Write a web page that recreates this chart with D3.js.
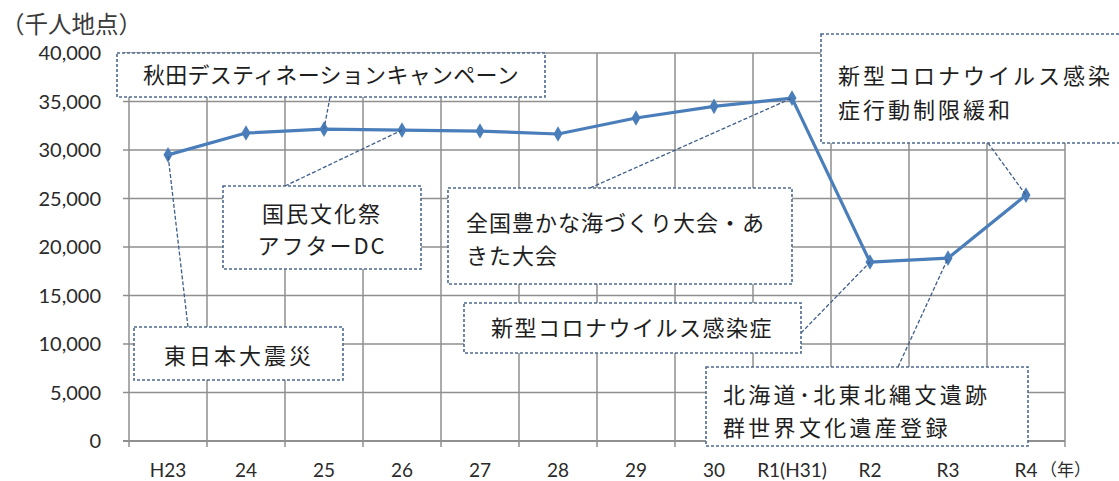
<!DOCTYPE html>
<html>
<head>
<meta charset="utf-8">
<script src="https://cdn.jsdelivr.net/npm/d3@7"></script>
<style>
  body { margin: 0; background: #fff; }
  text { font-family: "Noto Sans CJK JP", "Noto Sans", sans-serif; }
  .num { font-family: Lato, "Noto Sans", sans-serif; }
</style>
</head>
<body>
<div id="chart"></div>
<script>
// data
const categories = ["H23", "24", "25", "26", "27", "28", "29", "30", "R1(H31)", "R2", "R3", "R4"]
const visitors = [29500, 31750, 32150, 32050, 31950, 31650, 33300, 34500, 35350, 18450, 18850, 25350]
const yTicks = [0, 5000, 10000, 15000, 20000, 25000, 30000, 35000, 40000]

const noteLines = [
    ["東日本大震災"],
    ["秋田デスティネーションキャンペーン"],
    ["国民文化祭", "アフターDC"],
    ["全国豊かな海づくり大会・あ", "きた大会"],
    ["新型コロナウイルス感染症"],
    ["北海道･北東北縄文遺跡", "群世界文化遺産登録"],
    ["新型コロナウイルス感染", "症行動制限緩和"]
]
const noteTarget = [0, 2, 3, 8, 9, 10, 11]

// layout for the callout boxes
const noteBoxes = [
    {x: 134, y: 327, w: 209, h: 53, align: "middle", tx: 239, ty: [364], ls: 3, lx: 188, ly: 327},
    {x: 117, y: 53, w: 428, h: 44, align: "middle", tx: 331, ty: [83], ls: 0.3, lx: 330, ly: 97},
    {x: 223, y: 186, w: 198, h: 83, align: "middle", tx: 322, ty: [222, 254], ls: 2, lx: 285, ly: 186},
    {x: 448, y: 188, w: 344, h: 96, align: "start", tx: 466, ty: [231, 264], ls: 1, lx: 590, ly: 188},
    {x: 464, y: 303, w: 337, h: 50, align: "middle", tx: 632, ty: [336], ls: 1.5, lx: 801, ly: 333},
    {x: 706, y: 367, w: 322, h: 79, align: "start", tx: 723, ty: [403, 436], ls: 3.3, lx: 898, ly: 367},
    {x: 821, y: 34, w: 310, h: 109, align: "start", tx: 838, ty: [84, 118], ls: 3, lx: 988, ly: 143}
]

const width = 1119, height = 481
const plot = {left: 129, right: 1065, top: 53, bottom: 441}

const svg = d3.select("#chart").append("svg")
    .attr("width", width)
    .attr("height", height)

const x = d3.scaleBand()
    .domain(categories)
    .range([plot.left, plot.right])
    .padding(0)

const y = d3.scaleLinear()
    .domain([0, 40000])
    .range([plot.bottom, plot.top])

const gridColor = "#8f8f8f"

// horizontal grid + y ticks
svg.append("g").selectAll("line")
    .data(yTicks)
    .enter().append("line")
    .attr("x1", plot.left - 6)
    .attr("x2", plot.right)
    .attr("y1", d => y(d))
    .attr("y2", d => y(d))
    .attr("stroke", gridColor)
    .attr("stroke-width", d => d === 0 ? 2 : 1.5)

// vertical grid at category boundaries
let bounds = categories.map(c => x(c)).concat([plot.right])
svg.append("g").selectAll("line")
    .data(bounds)
    .enter().append("line")
    .attr("x1", d => d)
    .attr("x2", d => d)
    .attr("y1", plot.top)
    .attr("y2", plot.bottom + 6)
    .attr("stroke", gridColor)
    .attr("stroke-width", 1.5)

// y labels
svg.append("g").selectAll("text")
    .data(yTicks)
    .enter().append("text")
    .attr("class", "num")
    .attr("x", 101)
    .attr("y", d => y(d) + 7)
    .attr("text-anchor", "end")
    .style("font-size", "20px")
    .style("fill", "#2a2a2a")
    .text(d => d3.format(",")(d))

// x labels
svg.append("g").selectAll("text")
    .data(categories)
    .enter().append("text")
    .attr("class", "num")
    .attr("x", d => x(d) + x.bandwidth() / 2)
    .attr("y", 477)
    .attr("text-anchor", "middle")
    .style("font-size", "19px")
    .style("fill", "#2a2a2a")
    .text(d => d)

svg.append("text")
    .attr("x", 1040)
    .attr("y", 476)
    .style("font-size", "17px")
    .style("fill", "#2a2a2a")
    .text("（年）")

svg.append("text")
    .attr("x", 1)
    .attr("y", 33)
    .style("font-size", "23.5px")
    .style("fill", "#3a3a3a")
    .text("（千人地点）")

// series line
const cx = i => x(categories[i]) + x.bandwidth() / 2

let line = d3.line()
    .x((d, i) => cx(i))
    .y(d => y(d))

svg.append("path")
    .datum(visitors)
    .attr("d", line)
    .attr("fill", "none")
    .attr("stroke", "#4a7ebb")
    .attr("stroke-width", 3.2)
    .attr("stroke-linejoin", "round")

svg.append("g").selectAll("path")
    .data(visitors)
    .enter().append("path")
    .attr("transform", (d, i) => "translate(" + cx(i) + "," + y(d) + ")")
    .attr("d", d3.symbol().type(d3.symbolDiamond).size(70))
    .attr("fill", "#4a7ebb")

// callouts
let notes = svg.append("g").selectAll("g")
    .data(noteLines)
    .enter().append("g")

notes.append("line")
    .attr("x1", (d, i) => noteBoxes[i].lx)
    .attr("y1", (d, i) => noteBoxes[i].ly)
    .attr("x2", (d, i) => cx(noteTarget[i]))
    .attr("y2", (d, i) => y(visitors[noteTarget[i]]))
    .attr("stroke", "#3f5f8a")
    .attr("stroke-width", 1.3)
    .attr("stroke-dasharray", "4,2")

notes.append("rect")
    .attr("x", (d, i) => noteBoxes[i].x)
    .attr("y", (d, i) => noteBoxes[i].y)
    .attr("width", (d, i) => noteBoxes[i].w)
    .attr("height", (d, i) => noteBoxes[i].h)
    .attr("fill", "#fff")
    .attr("stroke", "#4d6a90")
    .attr("stroke-width", 1.6)
    .attr("stroke-dasharray", "3,2")

notes.each(function(d, i) {
    let b = noteBoxes[i]
    d3.select(this).selectAll("text")
        .data(d)
        .enter().append("text")
        .attr("x", b.tx)
        .attr("y", (t, j) => b.ty[j])
        .attr("text-anchor", b.align)
        .style("font-size", "22px")
        .style("letter-spacing", b.ls + "px")
        .style("fill", "#1e1e1e")
        .text(t => t)
})
</script>
</body>
</html>
